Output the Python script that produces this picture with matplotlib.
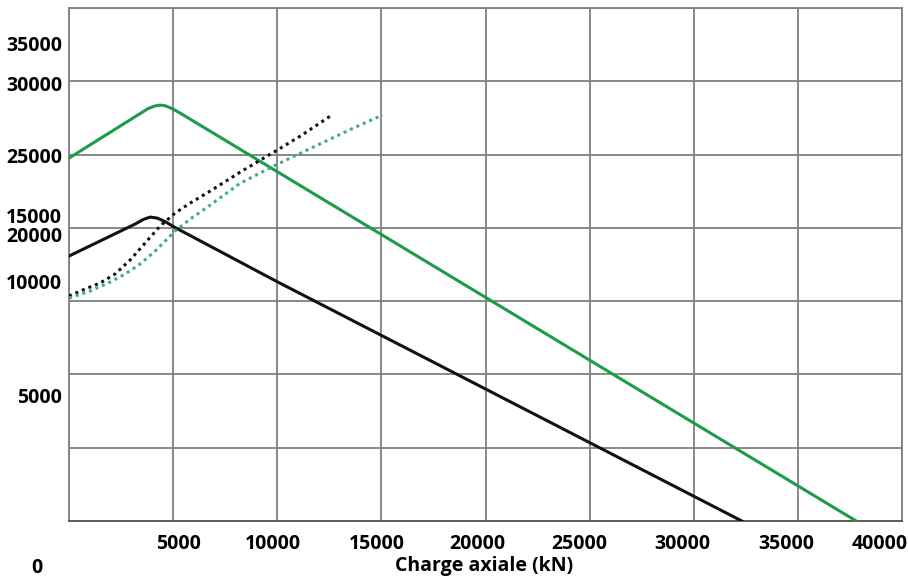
import matplotlib
matplotlib.use("Agg")
import matplotlib.pyplot as plt

# Solid curves (capacity envelopes)
green_x = [0, 3414, 3798, 4135, 4375, 4616, 4952, 5337, 37800]
green_y = [24760, 27796, 28137, 28321, 28375, 28334, 28137, 27830, 0]
black_x = [0, 3173, 3558, 3894, 4231, 4616, 5096, 10000, 32310]
black_y = [18076, 20258, 20565, 20736, 20668, 20429, 20020, 16323, 0]

# Dotted curves
bdot_x = [0, 769, 1490, 2212, 2933, 3654, 4375, 5096, 5817, 6780, 8222, 10000, 11106, 12548]
bdot_y = [15350, 15825, 16234, 16848, 17803, 18962, 20122, 21009, 21691, 22509, 23805, 25306, 26261, 27625]
gdot_x = [0, 1010, 1971, 2692, 3414, 4135, 4616, 5096, 5818, 6779, 8222, 10000, 11732, 13655, 15049]
gdot_y = [15211, 15688, 16302, 16848, 17530, 18417, 19099, 19783, 20599, 21554, 23046, 24339, 25511, 26807, 27693]

# Tick labels as they appear (misplaced in the source figure)
ylabels = ["35000", "30000", "25000", "15000", "20000", "10000", "5000"]
ylabel_pos = [32400, 29670, 24760, 20670, 19370, 16170, 8390]
xlabels = ["5000", "10000", "15000", "20000", "25000", "30000", "35000", "40000"]
xlabel_pos = [5250, 9800, 14800, 19600, 24500, 29450, 34450, 38950]

GREEN = "#1e9a4b"
GREEN_DOT = "#3fae7e"
FONT = "Open Sans"

fig = plt.figure(figsize=(9.08, 5.82), dpi=100)
ax = fig.add_axes([69 / 908, 61 / 582, 833 / 908, 513 / 582])

ax.plot(green_x, green_y, color=GREEN, lw=2.2, zorder=3)
ax.plot(black_x, black_y, color="#111111", lw=2.2, zorder=3)
ax.plot(bdot_x, bdot_y, color="#111111", lw=2.2, ls=(0, (1, 1.3)), zorder=3)
ax.plot(gdot_x, gdot_y, color=GREEN_DOT, lw=2.2, ls=(0, (1, 1.3)), zorder=3)

ax.set_xlim(0, 40000)
ax.set_ylim(0, 35000)
ax.set_xticks(range(0, 40001, 5000))
ax.set_yticks(range(0, 35001, 5000))
ax.grid(True, color="#808080", lw=1.3)
ax.tick_params(length=0, labelbottom=False, labelleft=False)
for s in ax.spines.values():
    s.set_color("#808080")
    s.set_linewidth(1.3)
ax.spines["bottom"].set_color("#555555")

trans_y = ax.get_yaxis_transform()
for lab, y in zip(ylabels, ylabel_pos):
    ax.text(-0.008, y, lab, transform=trans_y, ha="right", va="center",
            fontsize=14, fontweight="bold", family=FONT)

trans_x = ax.get_xaxis_transform()
for lab, x in zip(xlabels, xlabel_pos):
    ax.text(x, -0.025, lab, transform=trans_x, ha="center", va="top",
            fontsize=14, fontweight="bold", family=FONT, clip_on=False)

fig.text(37 / 908, 1 - 568 / 582, "0", ha="center", va="center",
         fontsize=14, fontweight="bold", family=FONT)
fig.text(484 / 908, 1 - 566 / 582, "Charge axiale (kN)", ha="center", va="center",
         fontsize=14, fontweight="bold", family=FONT)

fig.savefig("out.png", dpi=100)
